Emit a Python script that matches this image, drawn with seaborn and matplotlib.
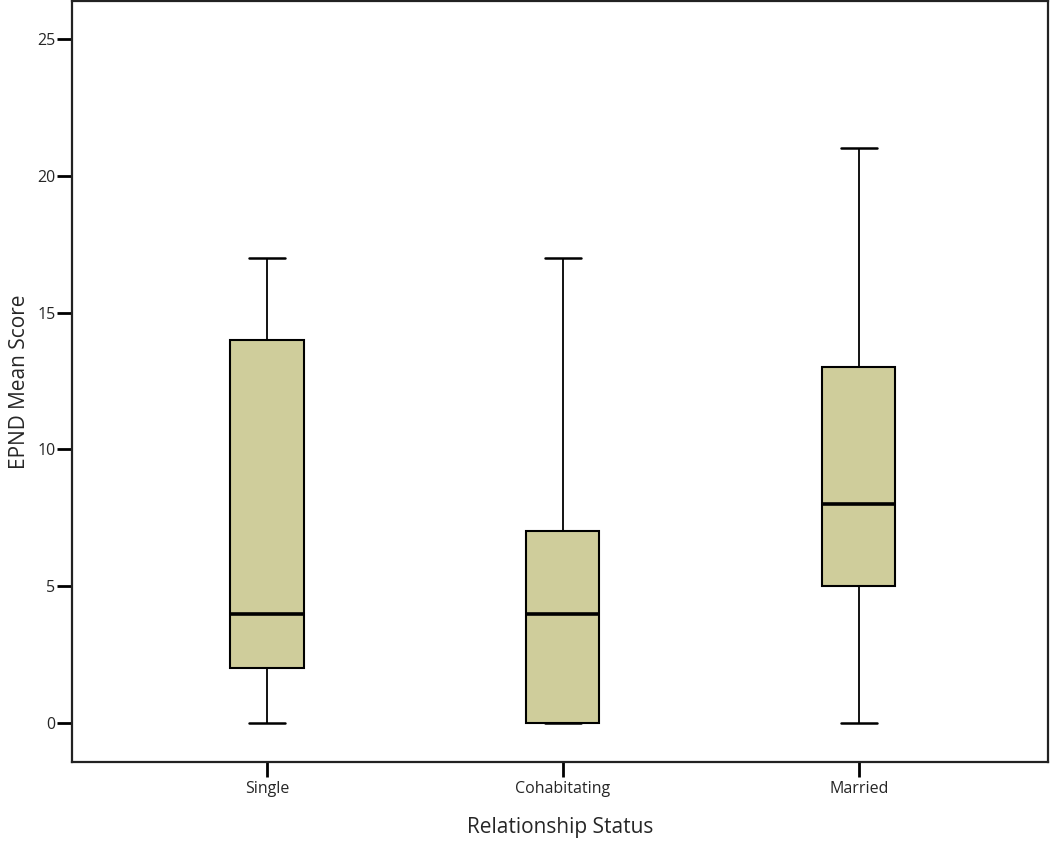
import pandas as pd
import matplotlib.pyplot as plt
import seaborn as sns

# five-number summaries (min, Q1, median, Q3, max)
groups = ["Single", "Cohabitating", "Married"]
single = [0, 2, 4, 14, 17]
cohabitating = [0, 0, 4, 7, 17]
married = [0, 5, 8, 13, 21]
y_ticks = [0, 5, 10, 15, 20, 25]

df = pd.DataFrame({
    "status": [g for g, vals in zip(groups, [single, cohabitating, married]) for _ in vals],
    "score": single + cohabitating + married,
})

sns.set_style("white")
plt.rcParams["font.family"] = ["Open Sans", "DejaVu Sans"]

fig = plt.figure(figsize=(10.5, 8.41), dpi=100)
ax = fig.add_axes([0.0686, 0.0939, 0.9294, 0.905])

sns.boxplot(data=df, x="status", y="score", order=groups, ax=ax,
            whis=(0, 100), width=0.247, color="#CFCD9B", saturation=1,
            boxprops=dict(edgecolor="black", linewidth=1.5),
            whiskerprops=dict(color="black", linewidth=1.3),
            capprops=dict(color="black", linewidth=1.8),
            medianprops=dict(color="black", linewidth=2.6))

ax.set_xlim(-0.659, 2.639)
ax.set_ylim(-1.425, 26.39)
ax.set_yticks(y_ticks)
ax.set_yticklabels([str(t) for t in y_ticks])
ax.tick_params(axis="both", direction="out", length=11, width=2, color="black",
               labelsize=11.5, left=True, bottom=True)
ax.tick_params(axis="y", pad=1)
ax.tick_params(axis="x", pad=3)
for s in ax.spines.values():
    s.set_visible(True)
    s.set_color("#222222")
    s.set_linewidth(1.6)

ax.set_xlabel("Relationship Status", fontsize=15, labelpad=14)
ax.set_ylabel("EPND Mean Score", fontsize=15, labelpad=5)

fig.savefig("out.png", dpi=100)
